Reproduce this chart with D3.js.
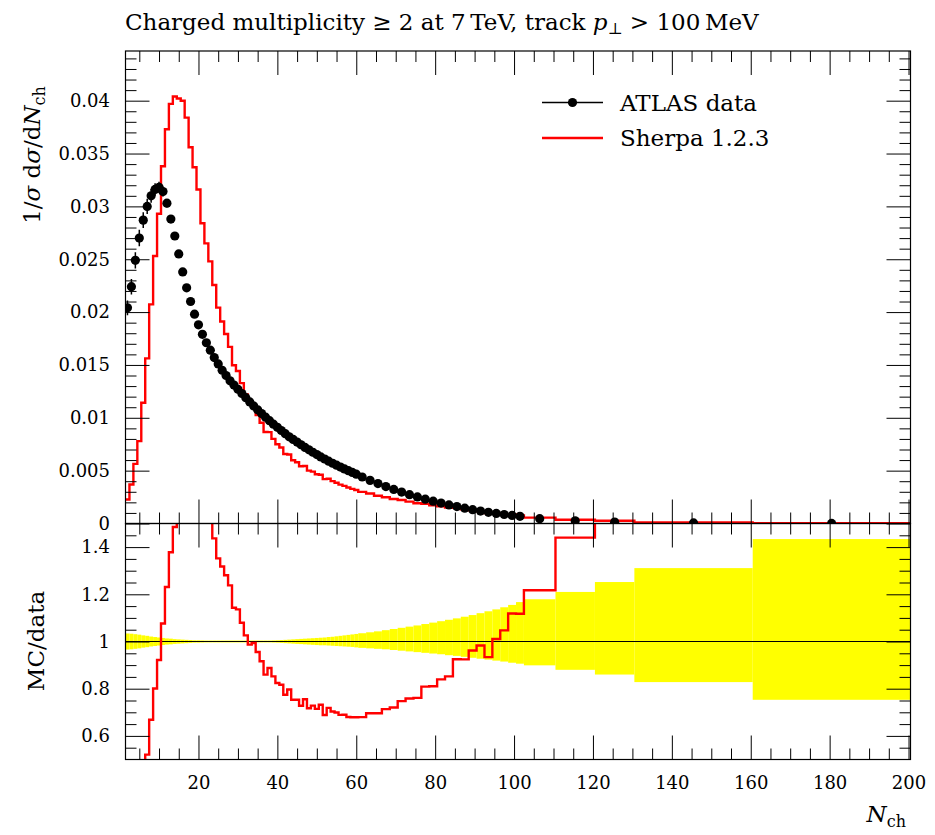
<!DOCTYPE html>
<html><head><meta charset="utf-8">
<script src="https://cdn.jsdelivr.net/npm/d3@7"></script>
<style>
body{margin:0;background:#fff}
svg{display:block}
text{font-family:"DejaVu Serif",serif;fill:#000}
</style>
</head><body>
<svg id="c" width="935" height="835"></svg>
<script>
// ---------------- data ----------------
const binEdges = [1.5,2.5,3.5,4.5,5.5,6.5,7.5,8.5,9.5,10.5,11.5,12.5,13.5,14.5,15.5,16.5,17.5,18.5,19.5,20.5,
  21.5,22.5,23.5,24.5,25.5,26.5,27.5,28.5,29.5,30.5,31.5,32.5,33.5,34.5,35.5,36.5,37.5,38.5,39.5,40.5,
  41.5,42.5,43.5,44.5,45.5,46.5,47.5,48.5,49.5,50.5,51.5,52.5,53.5,54.5,55.5,56.5,57.5,58.5,59.5,60.5,
  62.5,64.5,66.5,68.5,70.5,72.5,74.5,76.5,78.5,80.5,82.5,84.5,86.5,88.5,90.5,92.5,94.5,96.5,98.5,100.5,102.5,
  110.5,120.5,130.5,160.5,200.5];

const dataY = [0.0204,0.0224,0.0249,0.0270,0.0287,0.0300,0.0310,0.0316,0.0318,0.0314,
  0.0303,0.0288,0.0272,0.0255,0.0238,0.0223,0.0210,0.0198,0.0188,0.0179,
  0.0171,0.0164,0.0157,0.0151,0.0145,0.0140,0.0135,0.0131,0.0127,0.0123,
  0.0119,0.0115,0.01112,0.01075,0.0104,0.01006,0.00973,0.0094,0.0091,0.0088,
  0.0085,0.0082,0.00795,0.0077,0.00745,0.0072,0.00697,0.00674,0.00652,0.0063,
  0.0061,0.0059,0.0057,0.00552,0.00534,0.00516,0.0050,0.00483,0.00467,
  0.00440,0.00408,0.00378,0.00349,0.00322,0.00297,0.00273,0.00251,0.00230,0.00211,
  0.00193,0.00176,0.00160,0.00145,0.00131,0.00118,0.00106,0.00095,0.00085,0.00076,0.00068,
  0.00046,0.00025,0.00013,0.00005,0.000009];

const dataErrUp = [0.034,0.033,0.031,0.029,0.026,0.024,0.021,0.019,0.017,0.015,
  0.013,0.012,0.010,0.009,0.008,0.007,0.006,0.005,0.005,0.0045,
  0.004,0.004,0.004,0.004,0.004,0.004,0.004,0.004,0.004,0.004,
  0.004,0.004,0.004,0.004,0.004,0.004,0.004,0.0045,0.005,0.006,
  0.007,0.008,0.009,0.010,0.011,0.012,0.013,0.014,0.015,0.016,
  0.017,0.019,0.020,0.022,0.024,0.026,0.028,0.030,0.032,
  0.035,0.039,0.043,0.048,0.053,0.058,0.063,0.068,0.074,0.080,
  0.086,0.092,0.098,0.105,0.112,0.120,0.128,0.136,0.145,0.155,0.167,
  0.179,0.210,0.252,0.311,0.434];

const dataErrDn = [0.034,0.033,0.031,0.029,0.026,0.024,0.021,0.019,0.017,0.015,
  0.013,0.012,0.010,0.009,0.008,0.007,0.006,0.005,0.005,0.0045,
  0.004,0.004,0.004,0.004,0.004,0.004,0.004,0.004,0.004,0.004,
  0.004,0.004,0.004,0.004,0.004,0.004,0.004,0.0045,0.005,0.006,
  0.007,0.008,0.009,0.010,0.011,0.012,0.013,0.014,0.015,0.016,
  0.016,0.017,0.018,0.019,0.020,0.021,0.022,0.023,0.025,
  0.027,0.029,0.031,0.033,0.036,0.039,0.042,0.045,0.048,0.051,
  0.054,0.058,0.061,0.065,0.069,0.073,0.077,0.081,0.085,0.090,0.094,
  0.101,0.120,0.140,0.172,0.247];

const sherpaY = [0.00227,0.00369,0.00564,0.00779,0.01142,0.01562,0.02073,0.0253,0.0293,0.0338,
  0.0373,0.0397,0.0404,0.0402,0.0400,0.0384,0.0356,0.0337,0.0316,0.0284,
  0.0265,0.0248,0.02256,0.02042,0.01911,0.01793,0.01671,0.01497,0.01443,0.01328,
  0.01221,0.01135,0.01105,0.01027,0.00953,0.00865,0.00864,0.00801,0.0075,0.00719,
  0.00658,0.00653,0.00599,0.0058,0.00542,0.00544,0.0050,0.00491,0.00466,0.00461,
  0.0042,0.00424,0.00401,0.00386,0.00368,0.00356,0.0034,0.00328,0.00317,
  0.00299,0.00284,0.00263,0.00249,0.00232,0.00222,0.00207,0.00191,0.00186,0.00171,
  0.00162,0.0015,0.00148,0.00134,0.00126,0.00116,0.00099,0.00096,0.00089,0.00085,0.00076,
  0.00056,0.00036,0.00026,0.0001,0.00002];

const mainYTicks = [0,0.005,0.01,0.015,0.02,0.025,0.03,0.035,0.04];
const mainYTickLabels = ["0","0.005","0.01","0.015","0.02","0.025","0.03","0.035","0.04"];
const ratioYTicks = [0.6,0.8,1,1.2,1.4];
const ratioYTickLabels = ["0.6","0.8","1","1.2","1.4"];
const xTicks = [20,40,60,80,100,120,140,160,180,200];
const xTickLabels = ["20","40","60","80","100","120","140","160","180","200"];
const seriesNames = ["ATLAS data","Sherpa 1.2.3"];

// ---------------- layout ----------------
const L = 125.5, R = 910.5, T = 51, M = 523.5, B = 759.5;
const svg = d3.select("#c");
const x = d3.scaleLinear([1.5, 200.5], [L, R]);
const y = d3.scaleLinear([0, 0.0447], [M, T]);
const yr = d3.scaleLinear([0.5, 1.5], [B, M]);

const xMinor = d3.range(5, 200, 5).filter(v => v % 20 !== 0);
const yMinor = d3.range(0, 0.0446, 0.001).filter((v, i) => i % 5 !== 0);
const yrMinor = d3.range(0.55, 1.5, 0.05).filter(v => Math.abs(v * 5 - Math.round(v * 5)) > 1e-6);

const bins = dataY.map((v, i) => ({
  lo: binEdges[i], hi: binEdges[i + 1], c: (binEdges[i] + binEdges[i + 1]) / 2,
  d: v, up: dataErrUp[i], dn: dataErrDn[i], s: sherpaY[i]
}));

const defs = svg.append("defs");
defs.append("clipPath").attr("id", "clipMain").append("rect")
  .attr("x", L).attr("y", T).attr("width", R - L).attr("height", M - T);
defs.append("clipPath").attr("id", "clipRatio").append("rect")
  .attr("x", L).attr("y", M).attr("width", R - L).attr("height", B - M);

// ---------------- ratio band ----------------
const gR = svg.append("g").attr("clip-path", "url(#clipRatio)");
gR.selectAll("rect.band").data(bins).join("rect").attr("class", "band")
  .attr("x", d => x(d.lo)).attr("width", d => x(d.hi) - x(d.lo))
  .attr("y", d => yr(1 + d.up)).attr("height", d => yr(1 - d.dn) - yr(1 + d.up))
  .attr("fill", "#ffff00");
gR.append("line").attr("x1", L).attr("x2", R).attr("y1", yr(1)).attr("y2", yr(1))
  .attr("stroke", "#000").attr("stroke-width", 1.2);

const stepPts = (acc) => bins.flatMap(b => [[b.lo, acc(b)], [b.hi, acc(b)]]);
gR.append("path")
  .attr("d", d3.line().x(p => x(p[0])).y(p => yr(p[1]))(stepPts(b => b.s / b.d)))
  .attr("fill", "none").attr("stroke", "#ff0000").attr("stroke-width", 2.4);

// ---------------- main panel ----------------
const gM = svg.append("g").attr("clip-path", "url(#clipMain)");
gM.append("path")
  .attr("d", d3.line().x(p => x(p[0])).y(p => y(p[1]))(stepPts(b => b.s)))
  .attr("fill", "none").attr("stroke", "#ff0000").attr("stroke-width", 2.4);
gM.selectAll("line.err").data(bins).join("line").attr("class", "err")
  .attr("x1", d => x(d.c)).attr("x2", d => x(d.c))
  .attr("y1", d => y(d.d * (1 + d.up))).attr("y2", d => y(d.d * (1 - d.dn)))
  .attr("stroke", "#000").attr("stroke-width", 1.5);
gM.selectAll("circle.pt").data(bins).join("circle").attr("class", "pt")
  .attr("cx", d => x(d.c)).attr("cy", d => y(d.d)).attr("r", 4.6).attr("fill", "#000");

// ---------------- axes ----------------
function ax(gen, tx, ty, vals, size, fmt, pad, fs) {
  const g = svg.append("g").attr("transform", `translate(${tx},${ty})`)
    .call(gen.tickValues(vals).tickSize(size).tickPadding(pad || 3).tickFormat(fmt || (() => "")));
  g.select(".domain").remove();
  g.attr("font-family", "DejaVu Serif").attr("font-size", fs || 18);
  g.selectAll(".tick line").attr("stroke", "#000").attr("stroke-width", 1);
  return g;
}
// main panel
ax(d3.axisLeft(y), L, 0, mainYTicks, -24, (d, i) => mainYTickLabels[i], 15.5, 18);
ax(d3.axisLeft(y), L, 0, yMinor, -11);
ax(d3.axisRight(y), R, 0, mainYTicks, -24);
ax(d3.axisRight(y), R, 0, yMinor, -11);
ax(d3.axisTop(x), 0, T, xTicks, -24);
ax(d3.axisTop(x), 0, T, xMinor, -11);
ax(d3.axisBottom(x), 0, M, xTicks, -24);
ax(d3.axisBottom(x), 0, M, xMinor, -11);
// ratio panel
ax(d3.axisLeft(yr), L, 0, ratioYTicks, -24, (d, i) => ratioYTickLabels[i], 15.5, 18);
ax(d3.axisLeft(yr), L, 0, yrMinor, -11);
ax(d3.axisRight(yr), R, 0, ratioYTicks, -24);
ax(d3.axisRight(yr), R, 0, yrMinor, -11);
ax(d3.axisTop(x), 0, M, xTicks, -24);
ax(d3.axisTop(x), 0, M, xMinor, -11);
ax(d3.axisBottom(x), 0, B, xTicks, -24, (d, i) => xTickLabels[i], 17, 18);
ax(d3.axisBottom(x), 0, B, xMinor, -11);

// frames
svg.append("rect").attr("x", L).attr("y", T).attr("width", R - L).attr("height", M - T)
  .attr("fill", "none").attr("stroke", "#000").attr("stroke-width", 1.2);
svg.append("rect").attr("x", L).attr("y", M).attr("width", R - L).attr("height", B - M)
  .attr("fill", "none").attr("stroke", "#000").attr("stroke-width", 1.2);

// ---------------- legend ----------------
const lg = svg.append("g");
lg.append("line").attr("x1", 542).attr("x2", 603).attr("y1", 102.5).attr("y2", 102.5)
  .attr("stroke", "#000").attr("stroke-width", 1.5);
lg.append("circle").attr("cx", 572.5).attr("cy", 102.5).attr("r", 4.6).attr("fill", "#000");
lg.append("text").attr("x", 620).attr("y", 110.5).attr("font-size", 23).text(seriesNames[0]);
lg.append("line").attr("x1", 542).attr("x2", 603).attr("y1", 138).attr("y2", 138)
  .attr("stroke", "#ff0000").attr("stroke-width", 2.4);
lg.append("text").attr("x", 620).attr("y", 146).attr("font-size", 23).text(seriesNames[1]);

// ---------------- titles / labels ----------------
const title = svg.append("text").attr("x", 125).attr("y", 30).attr("font-size", 23);
title.append("tspan").text("Charged multiplicity \u2265 2 at 7\u2009TeV, track ");
title.append("tspan").attr("font-style", "italic").text("p");
title.append("tspan").attr("font-size", 16).attr("dy", 4).text("\u22A5");
title.append("tspan").attr("dy", -4).text(" > 100\u2009MeV");

const yl = svg.append("text").attr("transform", "translate(40,155) rotate(-90)")
  .attr("text-anchor", "middle").attr("font-size", 23);
yl.append("tspan").text("1/");
yl.append("tspan").attr("font-style", "italic").text("\u03C3");
yl.append("tspan").text(" d");
yl.append("tspan").attr("font-style", "italic").text("\u03C3");
yl.append("tspan").text("/d");
yl.append("tspan").attr("font-style", "italic").text("N");
yl.append("tspan").attr("font-size", 16).attr("dy", 5).text("ch");

svg.append("text").attr("transform", "translate(44,641) rotate(-90)")
  .attr("text-anchor", "middle").attr("font-size", 23).text("MC/data");

const xl = svg.append("text").attr("x", 906).attr("y", 822).attr("text-anchor", "end").attr("font-size", 23);
xl.append("tspan").attr("font-style", "italic").text("N");
xl.append("tspan").attr("font-size", 16).attr("dy", 5).text("ch");
</script>
</body></html>
